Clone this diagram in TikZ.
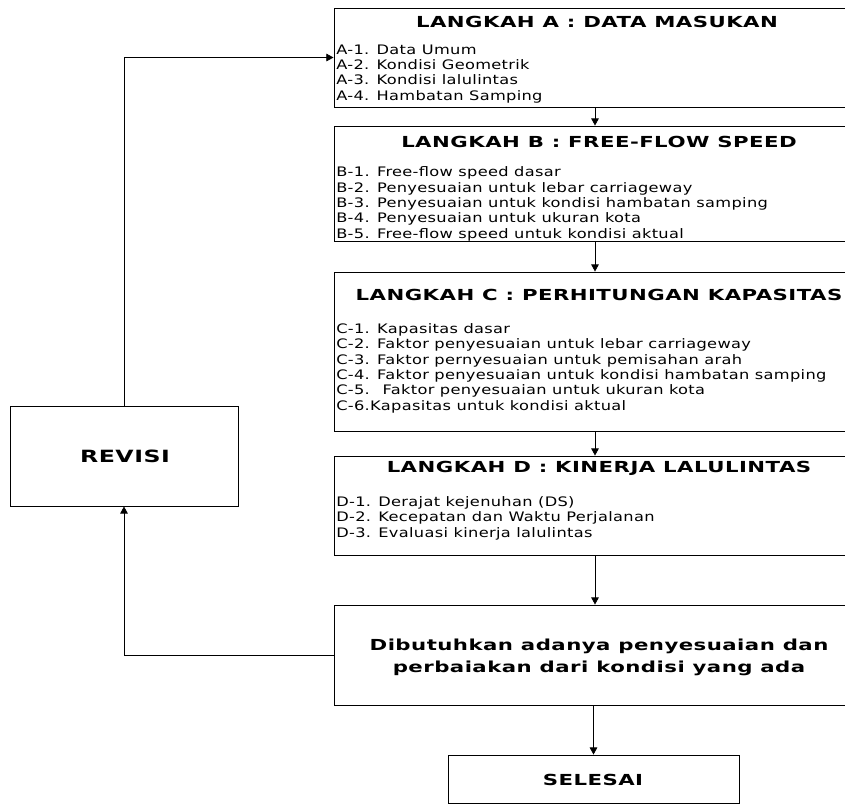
\documentclass[tikz,border=0pt]{standalone}
\usepackage{fontspec}
\setmainfont{DejaVu Sans}
\newfontfamily\itemfont[FakeStretch=1.24, LetterSpace=2.5]{DejaVu Sans}
\newfontfamily\headfont[FakeStretch=1.4, LetterSpace=3]{DejaVu Sans}
\usetikzlibrary{arrows.meta, positioning}
\tikzset{
  stepbox/.style={rectangle, draw, line width=0.6pt, inner sep=0pt,
                  minimum width=13.05cm},
  endbox/.style={rectangle, draw, line width=0.6pt, inner sep=0pt},
  steptitle/.style={anchor=base, inner sep=0pt,
                    font=\headfont\fontsize{10.8pt}{14pt}\selectfont\bfseries},
  stepitems/.style={anchor=base west, inner sep=0pt, align=left,
                    font=\itemfont\fontsize{9.3pt}{10.9pt}\selectfont},
  boldtext/.style={anchor=base, inner sep=0pt, align=center,
                   font=\headfont\fontsize{10.8pt}{15.6pt}\selectfont\bfseries},
  arrow/.style={-{Triangle[length=1.8mm, width=1.9mm]}, line width=0.6pt},
}
\begin{document}
\begin{tikzpicture}[x=0.025cm, y=-0.025cm]
  \useasboundingbox (0,0) rectangle (845,805);
  \clip (0,0) rectangle (845,805);

  % boxes
  \node[stepbox, minimum height=2.475cm] (boxA) at (595,57.5) {};
  \node[stepbox, minimum height=2.875cm] (boxB) at (595,183.5) {};
  \node[stepbox, minimum height=3.975cm] (boxC) at (595,351.5) {};
  \node[stepbox, minimum height=2.475cm] (boxD) at (595,505.5) {};
  \node[stepbox, minimum height=2.5cm] (boxE) at (595,655) {};
  \node[endbox, minimum width=7.275cm, minimum height=1.2cm] (boxF) at (593.5,779) {};
  \node[endbox, minimum width=5.7cm, minimum height=2.5cm] (revisi) at (124,456) {};

  % texts (base of a list = its last line)
  \node[steptitle] (tA) at (597,27) {LANGKAH A : DATA MASUKAN};
  \node[stepitems] (iA) at (336,100) {A-1. Data Umum\\ A-2. Kondisi Geometrik\\
    A-3. Kondisi lalulintas\\ A-4. Hambatan Samping};

  \node[steptitle] (tB) at (599,147) {LANGKAH B : FREE-FLOW SPEED};
  \node[stepitems] (iB) at (336,238) {B-1. Free-flow speed dasar\\
    B-2. Penyesuaian untuk lebar carriageway\\
    B-3. Penyesuaian untuk kondisi hambatan samping\\
    B-4. Penyesuaian untuk ukuran kota\\
    B-5. Free-flow speed untuk kondisi aktual};

  \node[steptitle] (tC) at (599,300) {LANGKAH C : PERHITUNGAN KAPASITAS};
  \node[stepitems] (iC) at (336,410) {C-1. Kapasitas dasar\\
    C-2. Faktor penyesuaian untuk lebar carriageway\\
    C-3. Faktor pernyesuaian untuk pemisahan arah\\
    C-4. Faktor penyesuaian untuk kondisi hambatan samping\\
    C-5.~ Faktor penyesuaian untuk ukuran kota\\
    C-6.Kapasitas untuk kondisi aktual};

  \node[steptitle] (tD) at (599,472) {LANGKAH D : KINERJA LALULINTAS};
  \node[stepitems] (iD) at (336,537) {D-1. Derajat kejenuhan (DS)\\
    D-2. Kecepatan dan Waktu Perjalanan\\
    D-3. Evaluasi kinerja lalulintas};

  \node[boldtext] (tE) at (599,672) {Dibutuhkan adanya penyesuaian dan\\
    perbaiakan dari kondisi yang ada};
  \node[boldtext] (tF) at (593,785) {SELESAI};
  \node[boldtext, font=\headfont\fontsize{12pt}{14pt}\selectfont\bfseries] (tR) at (125,462) {REVISI};

  % connectors
  \draw[arrow] (boxA) -- (boxB);
  \draw[arrow] (boxB) -- (boxC);
  \draw[arrow] (boxC) -- (boxD);
  \draw[arrow] (boxD) -- (boxE);
  \draw[arrow] (boxE.south -| boxF) -- (boxF);
  \draw[arrow] (boxE.west) -| (revisi.south);
  \draw[arrow] (revisi.north) |- (boxA.west);
\end{tikzpicture}
\end{document}
